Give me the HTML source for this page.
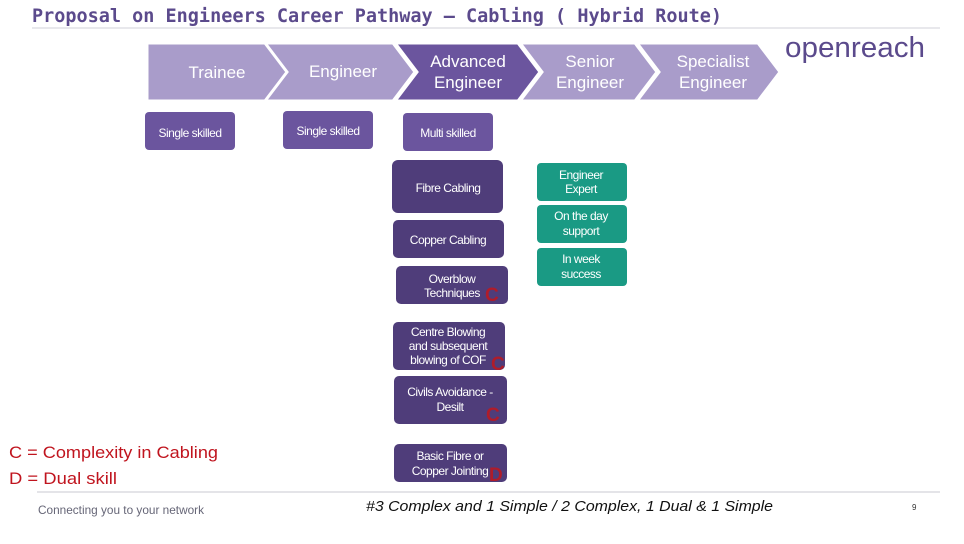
<!DOCTYPE html>
<html><head><meta charset="utf-8"><style>
body{margin:0;width:964px;height:539px;background:#fff;overflow:hidden;font-family:"Liberation Sans","DejaVu Sans",sans-serif}
</style></head><body>
<svg width="964" height="539" viewBox="0 0 964 539" xmlns="http://www.w3.org/2000/svg" font-family="Liberation Sans, DejaVu Sans, sans-serif">
<text x="32" y="22" font-size="19" font-weight="bold" fill="#5b4a8c" font-family="DejaVu Sans Mono, Liberation Mono, monospace" textLength="690" lengthAdjust="spacingAndGlyphs">Proposal on Engineers Career Pathway – Cabling ( Hybrid Route)</text>
<line x1="32" y1="28" x2="940" y2="28" stroke="#d0d0d8" stroke-width="1"/>
<g stroke="#fff" stroke-width="3">
<polygon points="147,43 270,43 292,72 270,101 147,101" fill="#a99cca"/>
<polygon points="265,43 393,43 415,72 393,101 265,101 287,72" fill="#a99cca"/>
<polygon points="395,43 518,43 540,72 518,101 395,101 417,72" fill="#6b559e"/>
<polygon points="520,43 635,43 657,72 635,101 520,101 542,72" fill="#a99cca"/>
<polygon points="637,43 758,43 780,72 758,101 637,101 659,72" fill="#a99cca"/>
</g>
<g fill="#fff" font-size="17" text-anchor="middle">
<text x="217" y="78">Trainee</text>
<text x="343" y="77">Engineer</text>
<text x="468" y="67">Advanced</text><text x="468" y="88">Engineer</text>
<text x="590" y="67">Senior</text><text x="590" y="88">Engineer</text>
<text x="713" y="67">Specialist</text><text x="713" y="88">Engineer</text>
</g>
<text x="785" y="57" font-size="29" fill="#5b4a8c" textLength="140" lengthAdjust="spacingAndGlyphs">openreach</text>
<g fill="#6b559e">
<rect x="145" y="112" width="90" height="38" rx="4"/>
<rect x="283" y="111" width="90" height="38" rx="4"/>
<rect x="403" y="113" width="90" height="38" rx="4"/>
</g>
<g fill="#fff" font-size="12" text-anchor="middle" letter-spacing="-0.5">
<text x="190" y="137">Single skilled</text>
<text x="328" y="135">Single skilled</text>
<text x="448" y="137">Multi skilled</text>
</g>
<g fill="#4f3d7a">
<rect x="392" y="160" width="111" height="53" rx="6"/>
<rect x="393" y="220" width="111" height="38" rx="5"/>
<rect x="396" y="266" width="112" height="38" rx="5"/>
<rect x="393" y="322" width="112" height="48" rx="5"/>
<rect x="394" y="376" width="113" height="48" rx="5"/>
<rect x="394" y="444" width="113" height="38" rx="5"/>
</g>
<g fill="#fff" font-size="12" text-anchor="middle" letter-spacing="-0.5">
<text x="448" y="192">Fibre Cabling</text>
<text x="448" y="244">Copper Cabling</text>
<text x="452" y="283">Overblow</text><text x="452" y="297">Techniques</text>
<text x="448" y="336">Centre Blowing</text><text x="448" y="350">and subsequent</text><text x="448" y="364">blowing of COF</text>
<text x="450" y="396">Civils Avoidance -</text><text x="450" y="411">Desilt</text>
<text x="450" y="460">Basic Fibre or</text><text x="450" y="475">Copper Jointing</text>
</g>
<g fill="#b01c2a" font-size="19" font-weight="bold">
<text x="485" y="301">C</text>
<text x="491" y="370">C</text>
<text x="486" y="421">C</text>
<text x="489" y="481">D</text>
</g>
<g fill="#1a9a84">
<rect x="537" y="163" width="90" height="38" rx="4"/>
<rect x="537" y="205" width="90" height="38" rx="4"/>
<rect x="537" y="248" width="90" height="38" rx="4"/>
</g>
<g fill="#fff" font-size="12" text-anchor="middle" letter-spacing="-0.5">
<text x="581" y="179">Engineer</text><text x="581" y="193">Expert</text>
<text x="581" y="220">On the day</text><text x="581" y="235">support</text>
<text x="581" y="263">In week</text><text x="581" y="278">success</text>
</g>
<g fill="#c0141e" font-size="17">
<text x="9" y="458" textLength="209" lengthAdjust="spacingAndGlyphs">C = Complexity in Cabling</text>
<text x="9" y="484" textLength="108" lengthAdjust="spacingAndGlyphs">D = Dual skill</text>
</g>
<line x1="37" y1="492" x2="940" y2="492" stroke="#c8c8d0" stroke-width="1"/>
<text x="38" y="514" font-size="12" fill="#666677" textLength="166" lengthAdjust="spacingAndGlyphs">Connecting you to your network</text>
<text x="366" y="511" font-size="15" font-style="italic" fill="#111" textLength="407" lengthAdjust="spacingAndGlyphs">#3 Complex and 1 Simple / 2 Complex, 1 Dual &amp; 1 Simple</text>
<text x="912" y="510" font-size="8" fill="#333">9</text>
</svg>
</body></html>
